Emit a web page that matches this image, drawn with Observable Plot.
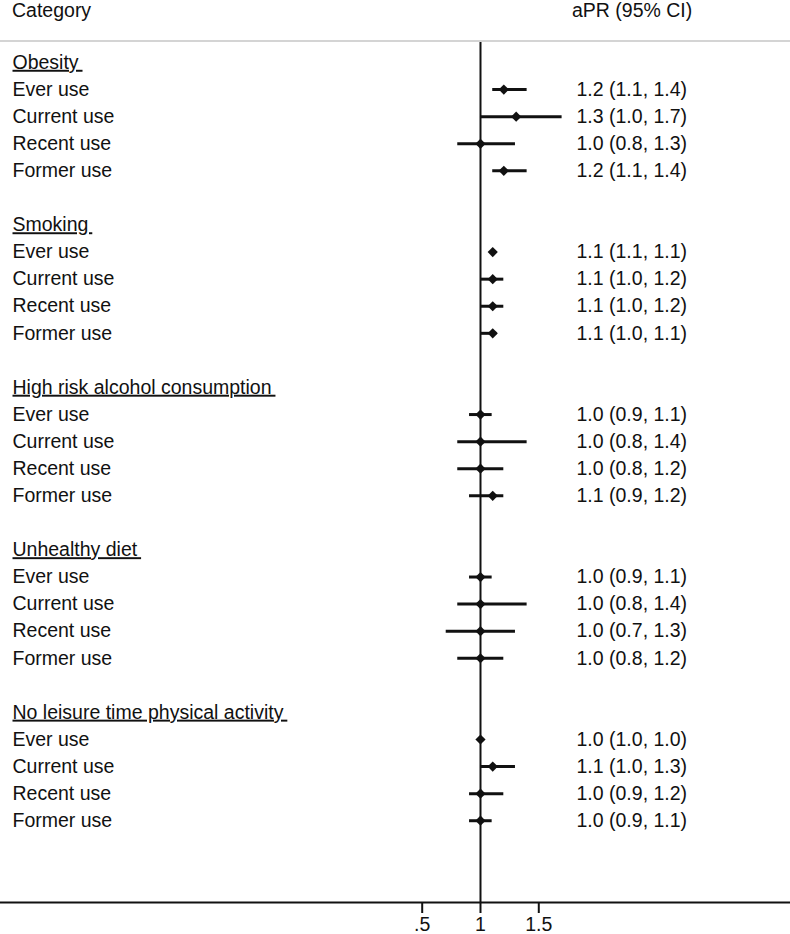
<!DOCTYPE html>
<html>
<head>
<meta charset="utf-8">
<script src="https://cdn.jsdelivr.net/npm/d3@7"></script>
<script src="https://cdn.jsdelivr.net/npm/@observablehq/plot@0.6"></script>
<style>
  html, body { margin: 0; padding: 0; background: #fff; }
  body { width: 790px; font-family: "Liberation Sans", Arial, sans-serif; }
  #head { position: relative; height: 40px; border-bottom: 2px solid #d4d4d4; font-size: 19.5px; color: #111; }
  #head span { position: absolute; top: 0px; line-height: 21px; }
</style>
</head>
<body>
<div id="head"><span style="left:12px">Category</span><span style="left:572px">aPR (95% CI)</span></div>
<div id="chart"></div>
<script>
const groups = ["Obesity", "Smoking", "High risk alcohol consumption", "Unhealthy diet", "No leisure time physical activity"];
const items = ["Ever use", "Current use", "Recent use", "Former use"];
const estimates = [
  [1.20, 1.306, 1.00, 1.20],
  [1.105, 1.105, 1.105, 1.105],
  [1.00, 1.00, 1.00, 1.105],
  [1.00, 1.00, 1.00, 1.00],
  [1.00, 1.105, 1.00, 1.00]
];
const lower = [
  [1.105, 1.00, 0.805, 1.105],
  [1.09, 1.00, 1.00, 1.00],
  [0.906, 0.805, 0.805, 0.906],
  [0.906, 0.805, 0.706, 0.805],
  [0.99, 1.00, 0.906, 0.906]
];
const upper = [
  [1.40, 1.70, 1.30, 1.40],
  [1.12, 1.20, 1.20, 1.14],
  [1.10, 1.40, 1.20, 1.20],
  [1.10, 1.40, 1.30, 1.20],
  [1.01, 1.30, 1.20, 1.10]
];
const ciLabels = [
  ["1.2 (1.1, 1.4)", "1.3 (1.0, 1.7)", "1.0 (0.8, 1.3)", "1.2 (1.1, 1.4)"],
  ["1.1 (1.1, 1.1)", "1.1 (1.0, 1.2)", "1.1 (1.0, 1.2)", "1.1 (1.0, 1.1)"],
  ["1.0 (0.9, 1.1)", "1.0 (0.8, 1.4)", "1.0 (0.8, 1.2)", "1.1 (0.9, 1.2)"],
  ["1.0 (0.9, 1.1)", "1.0 (0.8, 1.4)", "1.0 (0.7, 1.3)", "1.0 (0.8, 1.2)"],
  ["1.0 (1.0, 1.0)", "1.1 (1.0, 1.3)", "1.0 (0.9, 1.2)", "1.0 (0.9, 1.1)"]
];
const xTicks = [0.5, 1, 1.5];

// build tables
const headerRows = groups.map((g, i) => ({label: g, row: i * 6}));
const rows = [];
groups.forEach((g, i) => {
  items.forEach((it, j) => {
    rows.push({
      group: g, label: it, row: i * 6 + 1 + j,
      est: estimates[i][j], lo: lower[i][j], hi: upper[i][j], ci: ciLabels[i][j]
    });
  });
});

const yDomain = [-0.74, 31.02];
const xDomain = [-3.117, 3.659];

const plot = Plot.plot({
  width: 790,
  height: 892,
  marginLeft: 0,
  marginRight: 0,
  marginTop: 0,
  marginBottom: 32,
  style: {fontFamily: "'Liberation Sans', Arial, sans-serif", fontSize: "19.5px", color: "#111", background: "white"},
  x: {domain: xDomain},
  y: {domain: yDomain, reverse: true, axis: null},
  marks: [
    Plot.ruleX([1], {stroke: "#111", strokeWidth: 2}),
    Plot.ruleY([yDomain[1]], {stroke: "#111", strokeWidth: 2}),
    Plot.axisX({ticks: xTicks, tickFormat: d => d === 1 ? "1" : String(d).replace(/^0/, ""),
      tickSize: 11, tickPadding: 4, strokeWidth: 2, label: null, fill: "#111"}),
    Plot.ruleY(rows, {y: "row", x1: "lo", x2: "hi", stroke: "#111", strokeWidth: 3}),
    Plot.dot(rows, {x: "est", y: "row", symbol: "diamond2", r: 4.6, fill: "#111", stroke: "none"}),
    Plot.text(headerRows, {y: "row", text: d => d.label + "\u2009", frameAnchor: "left", dx: 12, textAnchor: "start", fill: "#111"}),
    Plot.text(rows, {y: "row", text: "label", frameAnchor: "left", dx: 12, textAnchor: "start", fill: "#111"}),
    Plot.text(rows, {y: "row", text: "ci", frameAnchor: "left", dx: 576, textAnchor: "start", fill: "#111"})
  ]
});

// underline group headers
const headerSet = new Set(groups.map(g => g + "\u2009"));
d3.select(plot).selectAll("text").filter(function() { return headerSet.has(this.textContent); })
  .style("text-decoration", "underline")
  .style("text-decoration-thickness", "2px")
  .style("text-underline-offset", "3px");

document.getElementById("chart").appendChild(plot);
</script>
</body>
</html>
